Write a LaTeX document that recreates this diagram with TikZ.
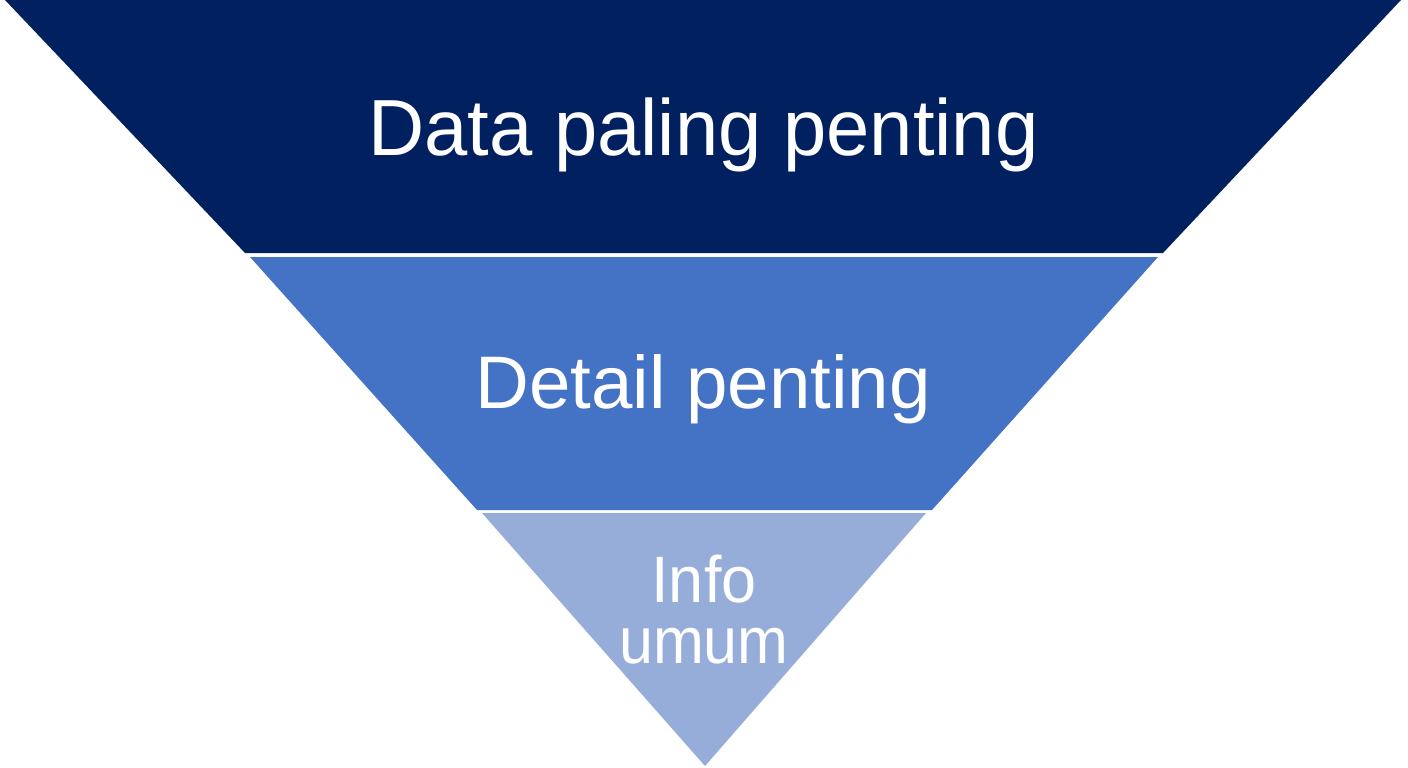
\documentclass[tikz,border=0pt]{standalone}
\usepackage{fontspec}
\setmainfont{Liberation Sans}
\definecolor{navy}{HTML}{002060}
\definecolor{midblue}{HTML}{4472C4}
\definecolor{lightblue}{HTML}{97ADD9}
\begin{document}
\begin{tikzpicture}[x=1pt,y=-1pt,
  band/.style={draw=none},
  lbl/.style={text=white,anchor=base,inner sep=0pt}]
\useasboundingbox[fill=white] (0,0) rectangle (1408,768);
\fill[navy] (5,0) -- (1401,0) -- (1163,253) -- (245,253) -- cycle;
\fill[midblue] (250,257) -- (1158,257) -- (932,510) -- (477,510) -- cycle;
\fill[lightblue] (482,513) -- (926,513) -- (705,766) -- cycle;
\node[lbl,font=\fontsize{79.6}{90}\selectfont] (t1) at (703.5,155) {\scalebox{0.977}[1]{Data paling penting}};
\node[lbl,font=\fontsize{74.5}{84}\selectfont] (t2) at (703,408) {Detail penting};
\node[lbl,font=\fontsize{65.6}{74}\selectfont] (t3a) at (704,602) {\scalebox{0.96}[1]{Info}};
\node[lbl,font=\fontsize{65.6}{74}\selectfont] (t3b) at (704,663) {\scalebox{0.93}[1]{umum}};
\end{tikzpicture}
\end{document}
